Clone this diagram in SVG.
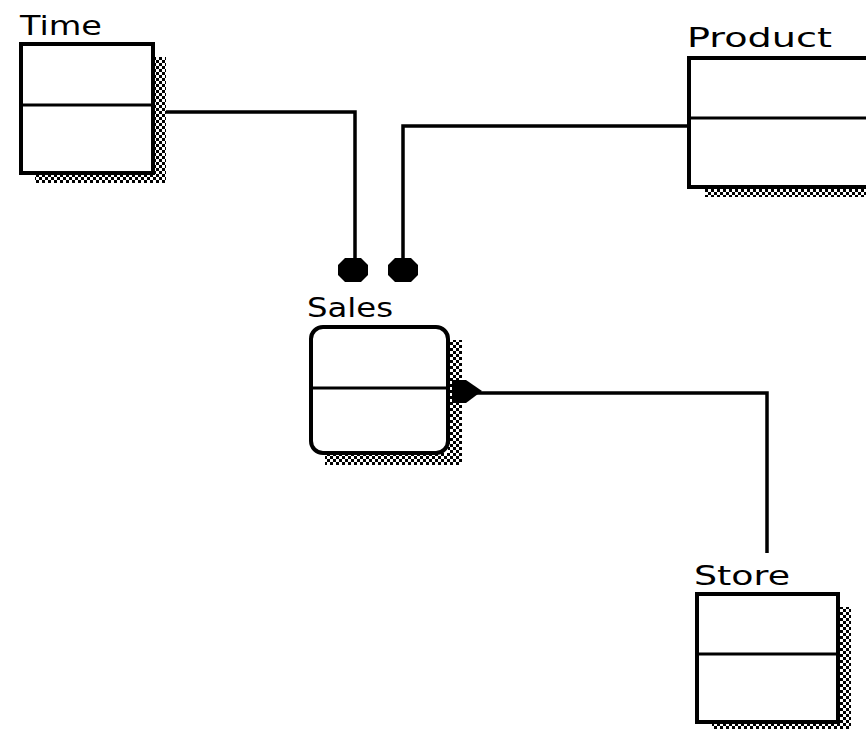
<svg xmlns="http://www.w3.org/2000/svg" width="866" height="729" viewBox="0 0 866 729">
<defs>
<pattern id="chk" width="6" height="6" patternUnits="userSpaceOnUse">
<rect x="0" y="0" width="3" height="3" fill="#000"/>
<rect x="3" y="3" width="3" height="3" fill="#000"/>
</pattern>
<style>
.box{fill:#fff;stroke:#000;stroke-width:4}
.div{stroke:#000;stroke-width:3}
.sh{fill:url(#chk)}
.lbl{font-family:"DejaVu Sans","Liberation Sans",sans-serif;font-size:26px;fill:#000}
.ln{fill:none;stroke:#000;stroke-width:3.5}
.dot{fill:#000}
</style>
</defs>
<rect width="866" height="729" fill="#fff"/>
<g id="connectors">
<polyline class="ln" points="166,112 355,112 355,262"/>
<polyline class="ln" points="688,126 403,126 403,262"/>
<polyline class="ln" points="470,393 767,393 767,553"/>
<path class="dot" d="M345,258 h16 l7,7 v10 l-7,7 h-16 l-7,-7 v-10 z"/>
<path class="dot" d="M395,258 h16 l7,7 v10 l-7,7 h-16 l-7,-7 v-10 z"/>
<path class="dot" d="M452,380 h14 l16,11 l-16,12 h-14 z"/>
</g>
<g id="time">
<rect class="sh" x="153" y="57" width="13" height="126"/>
<rect class="sh" x="35" y="173" width="131" height="10"/>
<rect class="box" x="21" y="44" width="132" height="129"/>
<line class="div" x1="21" y1="105" x2="153" y2="105"/>
<text class="lbl" x="20" y="35" textLength="82" lengthAdjust="spacingAndGlyphs">Time</text>
</g>
<g id="product">
<rect class="sh" x="705" y="187" width="161" height="10"/>
<rect class="box" x="689" y="58" width="190" height="129"/>
<line class="div" x1="689" y1="118" x2="866" y2="118"/>
<text class="lbl" x="687" y="47" textLength="145" lengthAdjust="spacingAndGlyphs">Product</text>
</g>
<g id="sales">
<rect class="sh" x="448" y="340" width="14" height="125"/>
<rect class="sh" x="325" y="453" width="137" height="12"/>
<rect class="box" x="311" y="327" width="137" height="126" rx="12" ry="12"/>
<line class="div" x1="311" y1="388" x2="448" y2="388"/>
<text class="lbl" x="307" y="317" textLength="86" lengthAdjust="spacingAndGlyphs">Sales</text>
</g>
<g id="store">
<rect class="sh" x="838" y="607" width="13" height="125"/>
<rect class="sh" x="712" y="722" width="139" height="10"/>
<rect class="box" x="697" y="594" width="141" height="128"/>
<line class="div" x1="697" y1="654" x2="838" y2="654"/>
<text class="lbl" x="694" y="585" textLength="96" lengthAdjust="spacingAndGlyphs">Store</text>
</g>
</svg>
